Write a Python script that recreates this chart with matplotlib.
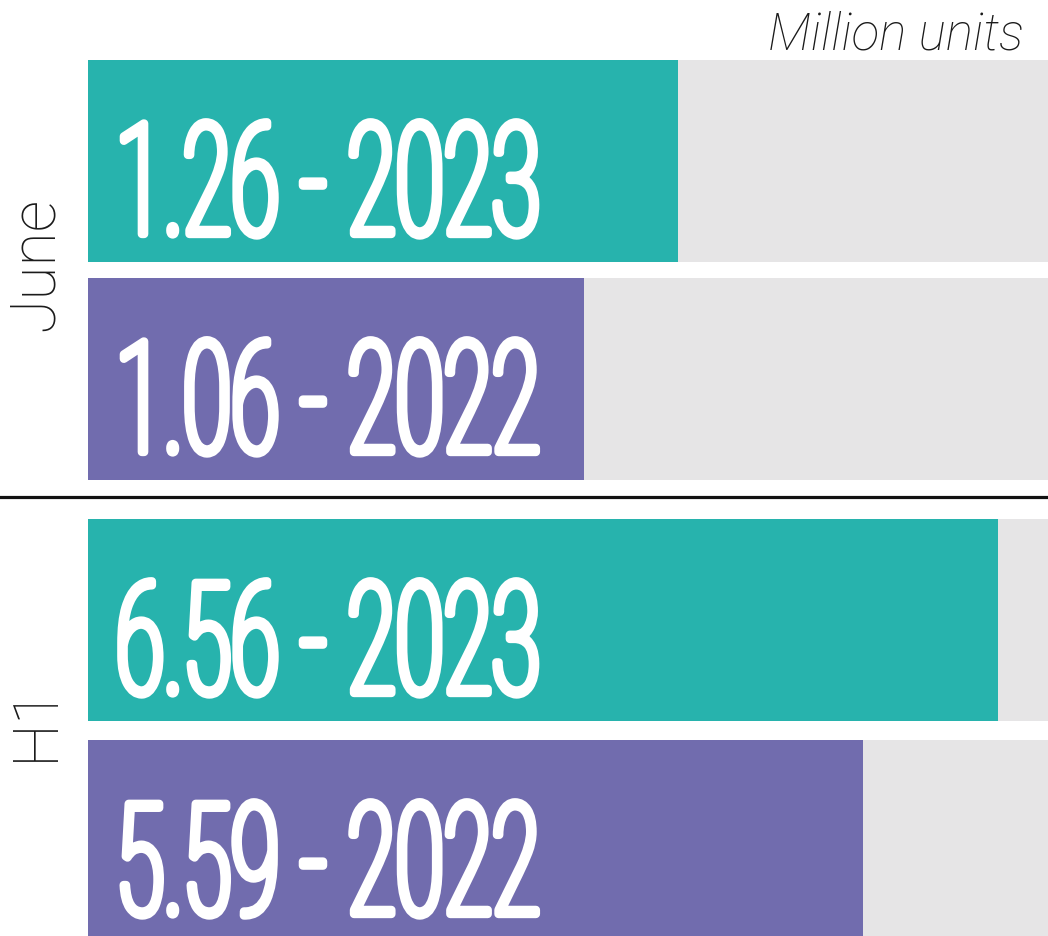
import matplotlib
matplotlib.use("Agg")
import matplotlib.pyplot as plt
from matplotlib import patheffects
from matplotlib.lines import Line2D
from matplotlib.transforms import Affine2D

# Datos del gráfico
grupos = ["June", "H1"]
anios = ["2022", "2023"]
valores_june = [1.06, 1.26]
valores_h1 = [5.59, 6.56]
unidad = "Million units"

# Escala (máximo del eje) para cada grupo
escala_june = 2.05
escala_h1 = 6.92

TEAL = "#27B3AD"
MORADO = "#716CAE"
GRIS = "#E6E5E6"
colores = [MORADO, TEAL]

W, H = 1048, 936


class Estirar(patheffects.AbstractPathEffect):
    """Estira el texto (letra alta y estrecha) y engrosa un poco el trazo."""

    def __init__(self, sx, sy, lw=0.0):
        super().__init__()
        self.sx, self.sy, self.lw = sx, sy, lw

    def draw_path(self, renderer, gc, tpath, affine, rgbFace=None):
        aff = Affine2D().scale(self.sx, self.sy) + affine
        gc0 = renderer.new_gc()
        gc0.copy_properties(gc)
        if self.lw:
            gc0.set_linewidth(self.lw)
            gc0.set_foreground(rgbFace)
            gc0.set_joinstyle("round")
        renderer.draw_path(gc0, tpath, aff, rgbFace)
        gc0.restore()


def panel(fig, top_px, bottom_px, gap, valores, escala, etiqueta, label_y):
    ax = fig.add_axes([88 / W, 1 - bottom_px / H, 960 / W, (bottom_px - top_px) / H])
    h = 1 / (1 + gap / 202)
    pos = list(range(len(valores)))
    ax.barh(pos, [escala] * len(valores), height=h, color=GRIS, linewidth=0)
    ax.barh(pos, valores, height=h, color=colores, linewidth=0)
    ax.set_xlim(0, escala)
    ax.set_ylim(-h / 2, len(valores) - 1 + h / 2)
    ax.axis("off")
    px_unidad = (bottom_px - top_px) / (len(valores) - 1 + h)
    for y, v, a in zip(pos, valores, anios):
        ax.text(0.029, y - 73 / px_unidad, f"{v:.2f} - {a}",
                transform=ax.get_yaxis_transform(),
                ha="left", va="baseline", color="white", fontsize=72,
                family="Roboto", weight="light",
                path_effects=[Estirar(0.88, 1.55, 6.0)])
    fig.text(53 / W, 1 - label_y / H, etiqueta, rotation=90, rotation_mode="anchor",
             ha="center", va="baseline", fontsize=45, family="Roboto",
             weight="light", color="#1a1a1a")
    return ax


def main():
    fig = plt.figure(figsize=(W / 100, H / 100), dpi=100)
    fig.patch.set_facecolor("white")

    panel(fig, 60, 480, 16, valores_june, escala_june, grupos[0], 264)
    panel(fig, 519, 942, 19, valores_h1, escala_h1, grupos[1], 722)

    # Línea divisoria entre grupos
    fig.add_artist(Line2D([0, 1], [1 - 497 / H, 1 - 497 / H], color="#111111",
                          linewidth=2.3, transform=fig.transFigure))

    fig.text(1024 / W, 1 - 50 / H, unidad, ha="right", va="baseline",
             fontsize=37, family="Roboto", weight="light", style="italic",
             color="#1a1a1a")

    fig.savefig("out.png", dpi=100)
    plt.close(fig)


if __name__ == "__main__":
    main()
